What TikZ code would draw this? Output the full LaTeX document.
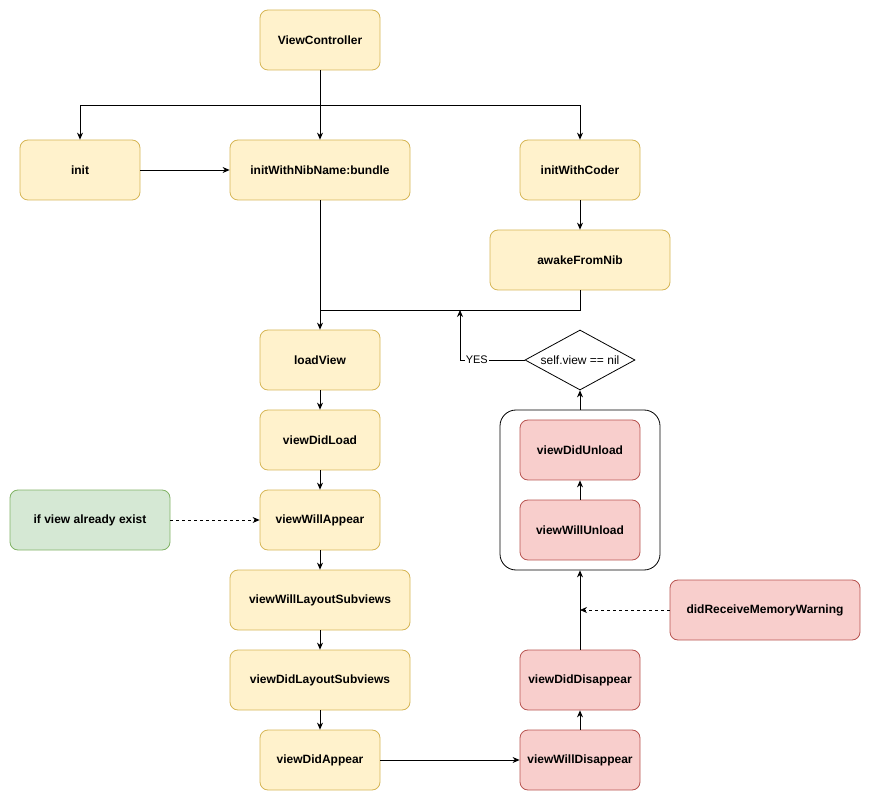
\documentclass[tikz,border=0pt]{standalone}
\usepackage{fontspec}
\setmainfont{Liberation Sans}
\usetikzlibrary{arrows.meta,shapes.geometric}
\definecolor{yfill}{HTML}{FFF2CC}\definecolor{ydraw}{HTML}{D6B656}
\definecolor{rfill}{HTML}{F8CECC}\definecolor{rdraw}{HTML}{B85450}
\definecolor{gfill}{HTML}{D5E8D4}\definecolor{gdraw}{HTML}{82B366}
\tikzset{
  x=1pt,y=-1pt,
  box/.style={draw, rounded corners=8pt, font=\bfseries\fontsize{12}{14}\selectfont, inner sep=0pt, line width=0.8pt},
  ybox/.style={box, fill=yfill, draw=ydraw},
  rbox/.style={box, fill=rfill, draw=rdraw},
  gbox/.style={box, fill=gfill, draw=gdraw},
  w120/.style={minimum width=120pt, minimum height=60pt},
  w180/.style={minimum width=180pt, minimum height=60pt},
  arr/.style={-{Stealth[length=7pt,width=6pt]}, line width=0.8pt},
  dash arr/.style={arr, dash pattern=on 3pt off 3pt},
}
\begin{document}
\begin{tikzpicture}
\useasboundingbox (0,0) rectangle (871,802);
\node[ybox,w120] (vc) at (320,40) {ViewController};
\node[ybox,w120] (init) at (80,170) {init};
\node[ybox,w180] (nib) at (320,170) {initWithNibName:bundle};
\node[ybox,w120] (coder) at (580,170) {initWithCoder};
\node[ybox,w180] (awake) at (580,260) {awakeFromNib};
\node[ybox,w120] (load) at (320,360) {loadView};
\node[ybox,w120] (didload) at (320,440) {viewDidLoad};
\node[ybox,w120] (willapp) at (320,520) {viewWillAppear};
\node[gbox,minimum width=160pt,minimum height=60pt] (exist) at (90,520) {if view already exist};
\node[ybox,w180] (willlay) at (320,600) {viewWillLayoutSubviews};
\node[ybox,w180] (didlay) at (320,680) {viewDidLayoutSubviews};
\node[ybox,w120] (didapp) at (320,760) {viewDidAppear};
\node[rbox,w120] (willdis) at (580,760) {viewWillDisappear};
\node[rbox,w120] (diddis) at (580,680) {viewDidDisappear};
\node[rbox,minimum width=190pt,minimum height=60pt] (mem) at (765,610) {didReceiveMemoryWarning};
\node[draw,rounded corners=16pt,line width=0.8pt,minimum width=160pt,minimum height=160pt,inner sep=0pt] (cont) at (580,490) {};
\node[rbox,w120] (willun) at (580,530) {viewWillUnload};
\node[rbox,w120] (didun) at (580,450) {viewDidUnload};
\node[draw,diamond,aspect=1.83,minimum width=110pt,minimum height=60pt,inner sep=0pt,line width=0.8pt,font=\fontsize{12}{14}\selectfont] (dia) at (580,360) {self.view == nil};
\coordinate (j1) at (320,105);
\coordinate (jm) at (320,310);
\coordinate (jy) at (460,310);
% top splits
\draw[line width=0.8pt] (vc.south) -- (j1);
\draw[arr] (j1) -| (init.north);
\draw[arr] (j1) -- (nib.north);
\draw[arr] (j1) -| (coder.north);
\draw[arr] (init) -- (nib);
\draw[arr] (coder) -- (awake);
\draw[arr] (nib.south) -- (load.north);
\draw[line width=0.8pt] (awake.south) |- (jm);
\draw[arr] (dia.west) -| node[pos=0.37,fill=white,inner sep=1pt,font=\fontsize{11}{13}\selectfont]{YES} (jy);
\draw[arr] (load) -- (didload);
\draw[arr] (didload) -- (willapp);
\draw[dash arr] (exist) -- (willapp);
\draw[arr] (willapp) -- (willlay);
\draw[arr] (willlay) -- (didlay);
\draw[arr] (didlay) -- (didapp);
\draw[arr] (didapp) -- (willdis);
\draw[arr] (willdis) -- (diddis);
\draw[arr] (diddis) -- (cont.south);
\draw[dash arr] (mem.west) -- (cont.south |- mem.west);
\draw[arr] (willun) -- (didun);
\draw[arr] (cont.north) -- (dia.south);
\end{tikzpicture}
\end{document}
